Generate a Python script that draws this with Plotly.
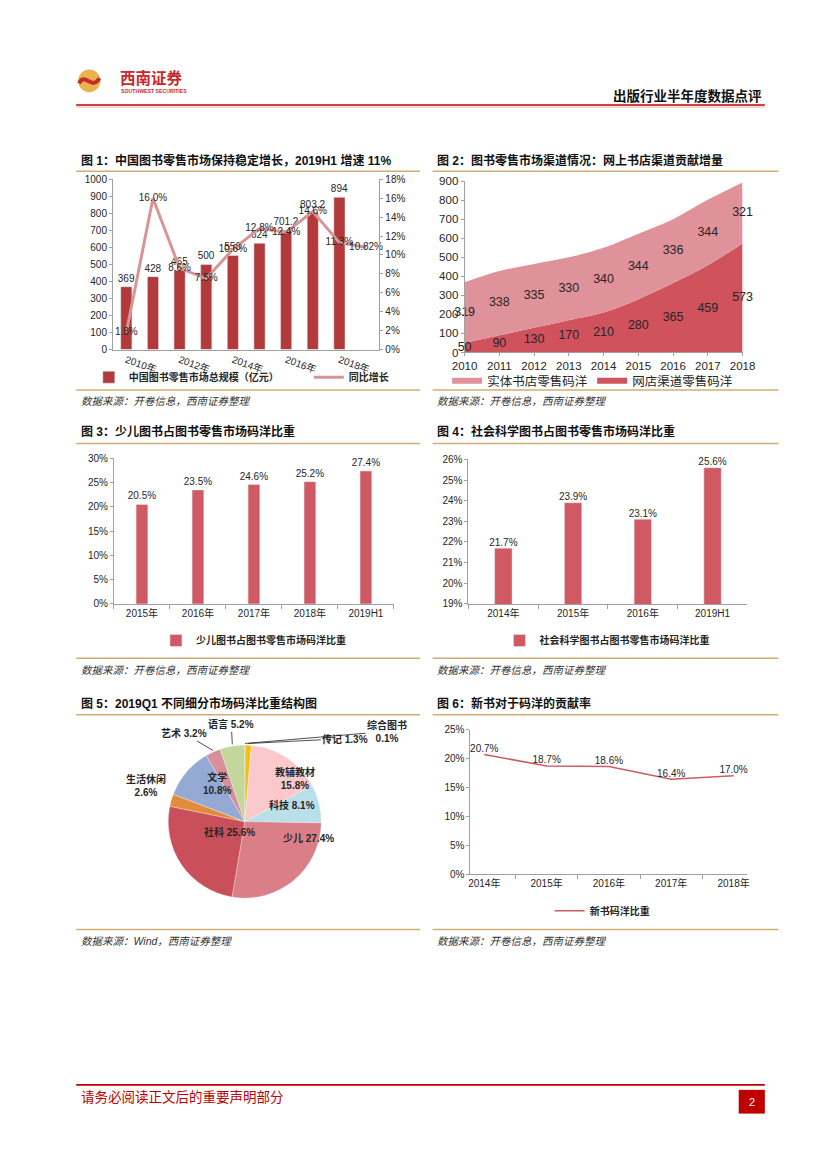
import math
import plotly.graph_objects as go

W, H = 827, 1169
def X(px): return px / W
def Y(py): return 1 - py / H

# ---------------- data ----------------
CAT1 = ['2010年', '2011年', '2012年', '2013年', '2014年', '2015年', '2016年', '2017年', '2018年', '2019H1']
TICKS1 = ['2010年', '2012年', '2014年', '2016年', '2018年']
MARKET1 = [369, 428, 465, 500, 553, 624, 701.2, 803.2, 894]
GROWTH1 = [1.8, 16.0, 8.6, 7.5, 10.6, 12.8, 12.4, 14.6, 11.3, 10.82]

YEARS2 = [2010, 2011, 2012, 2013, 2014, 2015, 2016, 2017, 2018]
ONLINE2 = [50, 90, 130, 170, 210, 280, 365, 459, 573]
STORE2 = [319, 338, 335, 330, 340, 344, 336, 344, 321]

CAT3 = ['2015年', '2016年', '2017年', '2018年', '2019H1']
KIDS3 = [20.5, 23.5, 24.6, 25.2, 27.4]

CAT4 = ['2014年', '2015年', '2016年', '2019H1']
SOCIAL4 = [21.7, 23.9, 23.1, 25.6]

PIE_LABELS = ['综合图书', '传记', '教辅教材', '科技', '少儿', '社科', '生活休闲', '文学', '艺术', '语言']
PIE_VALUES = [0.1, 1.3, 15.8, 8.1, 27.4, 25.6, 2.6, 10.8, 3.2, 5.2]

CAT6 = ['2014年', '2015年', '2016年', '2017年', '2018年']
NEWBOOK6 = [20.7, 18.7, 18.6, 16.4, 17.0]

# ---------------- style ----------------
NUM = "Liberation Sans, Arial, Noto Sans CJK SC"
CJK = "Liberation Sans, Noto Sans CJK SC"
AXC = "#A0A0A0"
TXT = "#262626"
GOLD = "#CFAE74"
RED = "#C00000"
BAR1C = "#B23A3A"
LINE1C = "#D99596"
AREA_TOP = "#E0929A"
AREA_BOT = "#CF525C"
BAR3C = "#D05A64"
PIE_COLORS = ['#E8A23C', '#F2BE1A', '#FBC8CC', '#B9DFE8', '#DA7E87', '#C9505A',
              '#E38B3A', '#94AAD5', '#D7909A', '#C3D69C']

fig = go.Figure()

def fmt(v):
    return str(int(v)) if float(v).is_integer() else str(v)

# ---------- chart 1 ----------
fig.add_trace(go.Bar(
    x=CAT1[:len(MARKET1)], y=MARKET1, name='中国图书零售市场总规模（亿元）',
    marker_color=BAR1C, width=0.42, text=[fmt(v) for v in MARKET1],
    textposition='outside', constraintext='none', textangle=0,
    textfont=dict(family=NUM, size=10, color=TXT),
    cliponaxis=False, xaxis='x', yaxis='y', legend='legend'))
g_labels = [f"{v:.1f}%" for v in GROWTH1[:-1]] + [f"{GROWTH1[-1]:.2f}%"]
fig.add_trace(go.Scatter(
    x=CAT1, y=GROWTH1, name='同比增长', mode='lines+text',
    line=dict(color=LINE1C, width=3), text=g_labels, textposition='middle center',
    textfont=dict(family=NUM, size=10, color=TXT), cliponaxis=False,
    xaxis='x', yaxis='y2', legend='legend'))

# ---------- chart 2 ----------
fig.add_trace(go.Scatter(
    x=YEARS2, y=ONLINE2, name='网店渠道零售码洋', stackgroup='a', mode='none',
    line=dict(shape='spline', width=0), fillcolor=AREA_BOT, legendrank=2,
    xaxis='x2', yaxis='y3', legend='legend2'))
fig.add_trace(go.Scatter(
    x=YEARS2, y=STORE2, name='实体书店零售码洋', stackgroup='a', mode='none',
    line=dict(shape='spline', width=0), fillcolor=AREA_TOP, legendrank=1,
    xaxis='x2', yaxis='y3', legend='legend2'))
fig.add_trace(go.Scatter(
    x=YEARS2, y=[o / 2 for o in ONLINE2], mode='text', text=[fmt(v) for v in ONLINE2],
    textfont=dict(family=NUM, size=12.5, color=TXT), showlegend=False, cliponaxis=False,
    xaxis='x2', yaxis='y3'))
fig.add_trace(go.Scatter(
    x=YEARS2, y=[o + s / 2 for o, s in zip(ONLINE2, STORE2)], mode='text',
    text=[fmt(v) for v in STORE2], textfont=dict(family=NUM, size=12.5, color=TXT),
    showlegend=False, cliponaxis=False, xaxis='x2', yaxis='y3'))

# ---------- chart 3 ----------
fig.add_trace(go.Bar(
    x=CAT3, y=KIDS3, name='少儿图书占图书零售市场码洋比重', marker_color=BAR3C, width=0.21,
    text=[f"{v:.1f}%" for v in KIDS3], textposition='outside', constraintext='none',
    textangle=0, textfont=dict(family=NUM, size=10, color=TXT), cliponaxis=False,
    xaxis='x3', yaxis='y4', legend='legend3'))

# ---------- chart 4 ----------
fig.add_trace(go.Bar(
    x=CAT4, y=SOCIAL4, name='社会科学图书占图书零售市场码洋比重', marker_color=BAR3C, width=0.25,
    cliponaxis=True, xaxis='x4', yaxis='y5', legend='legend4'))
fig.add_trace(go.Scatter(
    x=CAT4, y=SOCIAL4, mode='text', text=[f"{v:.1f}%" for v in SOCIAL4],
    textposition='top center', textfont=dict(family=NUM, size=10, color=TXT),
    cliponaxis=False, showlegend=False, xaxis='x4', yaxis='y5'))

# ---------- chart 6 ----------
fig.add_trace(go.Scatter(
    x=CAT6, y=NEWBOOK6, name='新书码洋比重', mode='lines+text',
    line=dict(color=BAR3C, width=1.6), text=[f"{v:.1f}%" for v in NEWBOOK6],
    textposition='top center', textfont=dict(family=NUM, size=10, color=TXT),
    cliponaxis=False, xaxis='x5', yaxis='y6', legend='legend5'))

# ---------- chart 5 (pie) ----------
PCX, PCY, PR = 231, 816, 79
fig.add_trace(go.Pie(
    labels=PIE_LABELS, values=PIE_VALUES, sort=False, direction='clockwise', rotation=0,
    marker=dict(colors=PIE_COLORS, line=dict(color='white', width=0.3)),
    textinfo='none', hoverinfo='label+percent', showlegend=False,
    domain=dict(x=[X(PCX - PR), X(PCX + PR)], y=[Y(PCY + PR), Y(PCY - PR)])))

total = sum(PIE_VALUES)
mids, cum = [], 0.0
for v in PIE_VALUES:
    mids.append(2 * math.pi * (cum + v / 2) / total)
    cum += v

def polar(theta, r):
    return PCX + r * math.sin(theta), PCY - r * math.cos(theta)

annotations = []
PIE_INSIDE = {'教辅教材': (0.66, 0, True), '科技': (0.63, 4, False), '少儿': (0.56, -17, False),
              '社科': (0.60, 12, False), '文学': (0.75, 0, True)}
PIE_OUTSIDE = {'艺术': (-29, -17, False), '语言': (-1, -20, False),
               '传记': (97, -5, False), '综合图书': (142, -12, True)}
for lab, val, th in zip(PIE_LABELS, PIE_VALUES, mids):
    if lab in PIE_INSIDE:
        rf, dth, br = PIE_INSIDE[lab]
        px, py = polar(th + math.radians(dth), PR * rf)
        t = f"{lab}{'<br>' if br else ' '}{val:.1f}%"
        annotations.append(dict(x=X(px), y=Y(py), xref='paper', yref='paper', text=t,
                                showarrow=False, font=dict(family=CJK, size=10, color=TXT, weight='bold')))
    elif lab in PIE_OUTSIDE:
        ax, ay, br = PIE_OUTSIDE[lab]
        px, py = polar(th, PR)
        t = f"{lab}{'<br>' if br else ' '}{val:.1f}%"
        annotations.append(dict(x=X(px), y=Y(py), xref='paper', yref='paper', text=t,
                                showarrow=True, arrowhead=0, arrowwidth=0.8, arrowcolor='#222',
                                ax=ax, ay=ay, axref='pixel', ayref='pixel', standoff=0,
                                font=dict(family=CJK, size=10, color=TXT, weight='bold')))
    else:
        px, py = polar(th, PR)
        annotations.append(dict(x=X(px), y=Y(py), xref='paper', yref='paper',
                                text=f"{lab}<br>{val:.1f}%", showarrow=False,
                                xanchor='right', xshift=-3,
                                font=dict(family=CJK, size=10, color=TXT, weight='bold')))

# ---------------- axes ----------------
def yax(dom, rng, dtick, suffix='', anchor='x', **kw):
    d = dict(domain=[Y(dom[0]), Y(dom[1])], range=rng, dtick=dtick, ticksuffix=suffix,
             anchor=anchor, showline=True, linecolor=AXC, linewidth=1, ticks='outside',
             ticklen=3, tickcolor=AXC, showgrid=False, zeroline=False,
             tickfont=dict(family=NUM, size=10, color=TXT), fixedrange=True)
    d.update(kw)
    return d

def xax(dom, anchor, **kw):
    d = dict(domain=[X(dom[0]), X(dom[1])], anchor=anchor, showline=True, linecolor=AXC,
             linewidth=1, showgrid=False, zeroline=False,
             tickfont=dict(family=NUM, size=10, color=TXT), fixedrange=True)
    d.update(kw)
    return d

layout = dict(
    width=W, height=H, margin=dict(l=0, r=0, t=0, b=0),
    paper_bgcolor='white', plot_bgcolor='rgba(0,0,0,0)', bargap=0.5,
    font=dict(family=CJK, color=TXT),
    xaxis=xax((95, 370), 'y', type='category', categoryorder='array', categoryarray=CAT1,
              range=[-0.5, 9.5], tickmode='array', tickvals=TICKS1, tickangle=20, ticks=''),
    yaxis=yax((339, 167), [0, 1000], 100, anchor='x'),
    yaxis2=yax((339, 167), [0, 18], 2, '%', anchor='x', overlaying='y', side='right'),
    xaxis2=xax((458, 745), 'y3', range=[2010, 2018], dtick=1, ticks='outside', ticklen=3,
               tickcolor=AXC, tickfont=dict(family=NUM, size=11.5, color=TXT)),
    yaxis3=yax((342, 169), [0, 900], 100, anchor='x2', tickfont=dict(family=NUM, size=11.5, color=TXT)),
    xaxis3=xax((96, 385), 'y4', type='category', ticks='outside', tickson='boundaries',
               ticklen=4, tickcolor=AXC),
    yaxis4=yax((596, 449), [0, 30], 5, '%', anchor='x3'),
    xaxis4=xax((462, 750), 'y5', type='category', ticks='outside', tickson='boundaries',
               ticklen=4, tickcolor=AXC),
    yaxis5=yax((596, 450), [19, 26], 1, '%', anchor='x4'),
    xaxis5=xax((464, 750), 'y6', type='category', ticks='outside', tickson='boundaries',
               ticklen=4, tickcolor=AXC),
    yaxis6=yax((869, 723), [0, 25], 5, '%', anchor='x5'),
)

leg_common = dict(orientation='h', bgcolor='rgba(0,0,0,0)', yanchor='middle')
layout['legend'] = dict(leg_common, x=X(70), y=Y(367), xanchor='left', entrywidth=175,
                        font=dict(family=CJK, size=10, color=TXT, weight='bold'))
layout['legend2'] = dict(leg_common, x=X(440), y=Y(371), xanchor='left', traceorder='normal',
                         font=dict(family=CJK, size=12.5, color=TXT), itemwidth=30,
                         entrywidth=100)
layout['legend3'] = dict(leg_common, x=X(240), y=Y(633), xanchor='center',
                         font=dict(family=CJK, size=10, color=TXT, weight='bold'))
layout['legend4'] = dict(leg_common, x=X(605), y=Y(633), xanchor='center',
                         font=dict(family=CJK, size=10, color=TXT, weight='bold'))
layout['legend5'] = dict(leg_common, x=X(600), y=Y(906), xanchor='center',
                         font=dict(family=CJK, size=10, color=TXT, weight='bold'))

shapes = []
def hline(x0, x1, y, color, width):
    shapes.append(dict(type='line', xref='paper', yref='paper', x0=X(x0), x1=X(x1),
                       y0=Y(y), y1=Y(y), line=dict(color=color, width=width)))

# header / footer
hline(57, 768, 92, RED, 1.6)
hline(57, 768, 94, '#E8A0A0', 0.8)
hline(57, 768, 1082, RED, 1.6)
shapes.append(dict(type='circle', xref='paper', yref='paper', x0=X(59), x1=X(82),
                   y0=Y(79), y1=Y(56), fillcolor='#EBB34E', line=dict(width=0)))
shapes.append(dict(type='path', xref='paper', yref='paper',
                   path=f"M {X(60)},{Y(70)} C {X(66)},{Y(58)} {X(73)},{Y(78)} {X(81)},{Y(65)}",
                   line=dict(color='#C8282E', width=4)))
shapes.append(dict(type='rect', xref='paper', yref='paper', x0=X(741), x1=X(768),
                   y0=Y(1111), y1=Y(1087), fillcolor=RED, line=dict(width=0)))

# section rules
for (x0, x1) in [(57, 412), (425, 782)]:
    for (yt, yb) in [(159, 380), (434, 651), (708, 925)]:
        hline(x0, x1, yt, GOLD, 1.5)
        hline(x0, x1, yb, GOLD, 1.5)

def text(x, y, t, size, color=TXT, bold=False, italic=False, xanchor='left', family=CJK):
    annotations.append(dict(x=X(x), y=Y(y), xref='paper', yref='paper', text=t,
                            showarrow=False, xanchor=xanchor, yanchor='middle',
                            font=dict(family=family, size=size, color=color,
                                      weight='bold' if bold else 'normal',
                                      style='italic' if italic else 'normal')))

text(100, 65, '西南证券', 15.5, color='#C8282E', bold=True)
text(101, 78, 'SOUTHWEST SECURITIES', 5.2, color='#C8282E', bold=True, family=NUM)
text(767, 83, '出版行业半年度数据点评', 13.5, color='#111', bold=True, xanchor='right')
text(60, 1095, '请务必阅读正文后的重要声明部分', 13.5, color=RED)
text(754.5, 1099, '2', 11, color='white', xanchor='center', family=NUM)

TITLES = [(60, 148, '图 1：中国图书零售市场保持稳定增长，2019H1 增速 11%'),
          (427, 148, '图 2：图书零售市场渠道情况：网上书店渠道贡献增量'),
          (60, 422, '图 3：少儿图书占图书零售市场码洋比重'),
          (427, 422, '图 4：社会科学图书占图书零售市场码洋比重'),
          (60, 697, '图 5：2019Q1 不同细分市场码洋比重结构图'),
          (427, 697, '图 6：新书对于码洋的贡献率')]
for x, y, t in TITLES:
    text(x, y, t, 12, color='#111', bold=True)

SOURCES = [(60, 391, '数据来源：开卷信息，西南证券整理'),
           (427, 391, '数据来源：开卷信息，西南证券整理'),
           (60, 663, '数据来源：开卷信息，西南证券整理'),
           (427, 663, '数据来源：开卷信息，西南证券整理'),
           (60, 937, '数据来源：Wind，西南证券整理'),
           (427, 937, '数据来源：开卷信息，西南证券整理')]
for x, y, t in SOURCES:
    text(x, y, t, 10.5, color='#333', italic=True)

layout['shapes'] = shapes
layout['annotations'] = annotations
fig.update_layout(**layout)
fig.write_html("out.html")
